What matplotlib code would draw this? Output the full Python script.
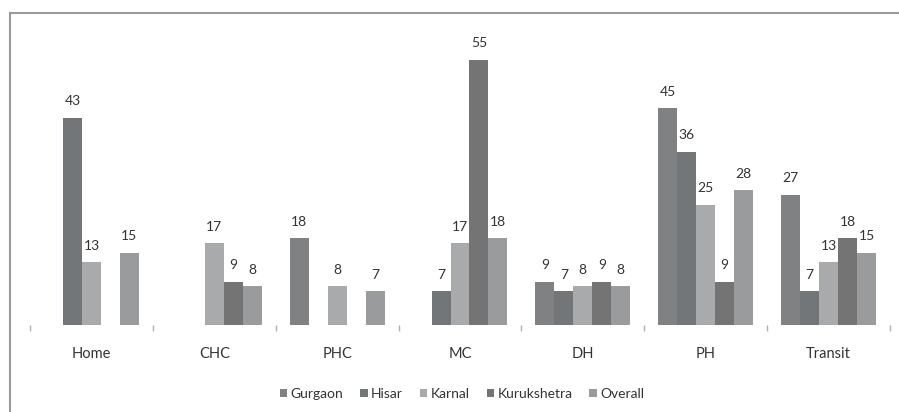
import numpy as np
import matplotlib.pyplot as plt
from matplotlib.patches import Rectangle

# === Data ===
categories = ["Home", "CHC", "PHC", "MC", "DH", "PH", "Transit"]
series = ["Gurgaon", "Hisar", "Karnal", "Kurukshetra", "Overall"]
gurgaon = [0, 0, 18, 0, 9, 45, 27]
hisar = [43, 0, 0, 7, 7, 36, 7]
karnal = [13, 17, 8, 17, 8, 25, 13]
kurukshetra = [0, 9, 0, 55, 9, 9, 18]
overall = [15, 8, 7, 18, 8, 28, 15]
values = [gurgaon, hisar, karnal, kurukshetra, overall]

colors = ["#808183", "#737679", "#a9aaac", "#747474", "#9a9b9d"]
text_color = "#333333"

plt.rcParams["font.family"] = ["Lato", "DejaVu Sans"]

fig = plt.figure(figsize=(8.99, 4.12), dpi=100)
ax = fig.add_axes([30 / 899, 1 - 325 / 412, 860 / 899, 289 / 412])

# outer chart frame (left and top edges visible)
fig.patches.append(Rectangle((10 / 899, -0.05), 1.2, 1 - 13 / 412 + 0.05,
                             transform=fig.transFigure, fill=False,
                             edgecolor="#9a9a9a", lw=1.5))

n = len(series)
w = 19 / 123
x = np.arange(len(categories))
for i, (name, vals) in enumerate(zip(series, values)):
    pos = x + (i - (n - 1) / 2) * w
    ax.bar(pos, vals, width=w, color=colors[i], label=name, linewidth=0)
    for p, v in zip(pos, vals):
        if v > 0:
            ax.text(p, v + 2.2, str(v), ha="center", va="bottom",
                    fontsize=10, color=text_color)

ax.set_xlim(-0.5, len(categories) - 0.5)
ax.set_ylim(0, 60)
for s in ax.spines.values():
    s.set_visible(False)
ax.set_yticks([])

# category labels, ticks at boundaries
ax.set_xticks(x)
ax.set_xticklabels(categories, fontsize=10.5, color=text_color)
ax.tick_params(axis="x", which="major", length=0, pad=16)
ax.set_xticks(np.arange(len(categories) + 1) - 0.5, minor=True)
ax.tick_params(axis="x", which="minor", length=4, width=1, color="#b0b0b0",
               direction="out", pad=2)

leg = fig.legend(loc="center", bbox_to_anchor=(462 / 899, 1 - 394 / 412),
                 ncol=5, frameon=False, fontsize=10, handlelength=0.55,
                 handleheight=0.55, handletextpad=0.25, columnspacing=1.2)
for t in leg.get_texts():
    t.set_color(text_color)

fig.savefig("out.png", dpi=100)
